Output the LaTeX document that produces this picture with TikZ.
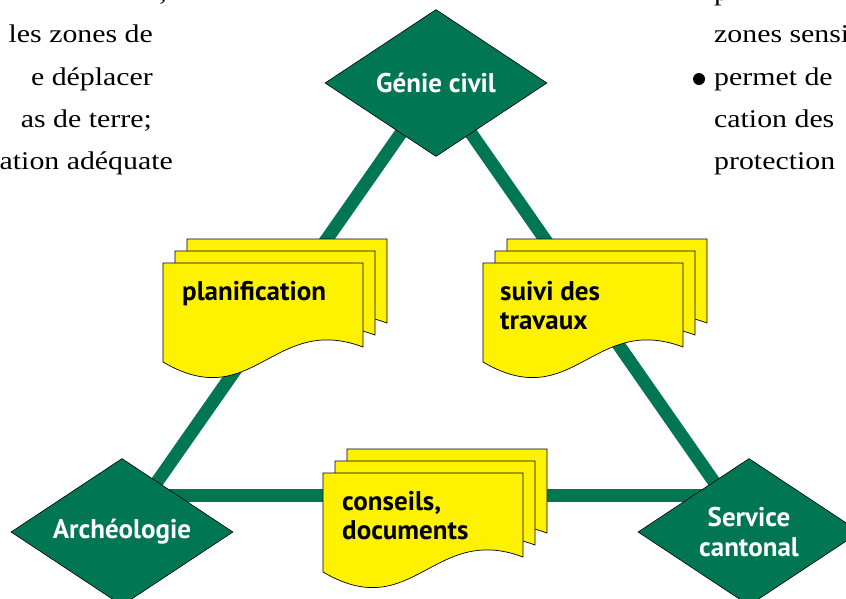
\documentclass[tikz,border=0pt]{standalone}
\usepackage{fontspec}
\setmainfont{Liberation Serif}
\newfontfamily\labelfont{PT Sans}
\newfontfamily\bgfont[FakeStretch=1.17]{Liberation Serif}
\usetikzlibrary{shapes.geometric,calc,backgrounds}
\definecolor{dgreen}{RGB}{0,118,82}
\definecolor{docyellow}{RGB}{255,242,0}
\begin{document}
\begin{tikzpicture}[x=1pt,y=-1pt,
  unitdiamond/.style={diamond, aspect=1.51, draw=black, line width=0.6pt, fill=dgreen,
    minimum width=222pt, minimum height=147pt, inner sep=0pt, text=white,
    font=\labelfont\bfseries\fontsize{27}{30}\selectfont, align=center},
  link/.style={draw=dgreen, line width=13pt},
  page/.style={fill=docyellow, draw=black, line width=0.7pt},
  doclabel/.style={font=\labelfont\bfseries\fontsize{27}{29}\selectfont,
    align=left, inner sep=0pt, anchor=base west},
  bgtext/.style={font=\bgfont\fontsize{25.5}{42}\selectfont, inner sep=0pt},
  docstack/.pic={
    \foreach \o in {24,12,0}{
      \path[page, shift={(\o,-\o)}] (0,0) -- (200,0) -- (200,84)
        .. controls (110,50) and (90,152) .. (0,99) -- cycle;
    }
  }
]
\clip (0,0) rectangle (846,598);
% diamonds
\node[unitdiamond] (gc) at (436,83) {Génie civil};
\node[unitdiamond] (ar) at (122,532) {Archéologie};
\node[unitdiamond] (sc) at (749,532) {Service\\cantonal};
% links
\begin{scope}[on background layer]
  \draw[link] (gc.center) -- (ar.center);
  \draw[link] (gc.center) -- (sc.center);
  \coordinate (hl) at ($(gc.center)!0.9176!(ar.center)$);
  \coordinate (hr) at ($(gc.center)!0.9176!(sc.center)$);
  \draw[link] (hl) -- (hr);
\end{scope}
% document stacks
\pic at (163,263) {docstack};
\pic at (483,263) {docstack};
\pic at (323,473) {docstack};
\node[doclabel] (plan) at (182,300) {planification};
\node[doclabel] (suivi) at (500,329) {suivi des\\travaux};
\node[doclabel] (cons) at (342,539) {conseils,\\documents};
% background text fragments
\node[bgtext, anchor=base east] (l0) at (167,0) {,};
\node[bgtext, anchor=base east] (l1) at (153,42.5) {les zones de};
\node[bgtext, anchor=base east] (l2) at (153,85) {e déplacer};
\node[bgtext, anchor=base east] (l3) at (152,127) {as de terre;};
\node[bgtext, anchor=base east] (l4) at (173,169) {ation adéquate};
\node[bgtext, anchor=base west] (r0) at (714,0.5) {p};
\node[bgtext, anchor=base west] (r1) at (714,42.5) {zones sensibles};
\node[circle, fill=black, inner sep=0pt, minimum size=12pt] (bul) at (699,79) {};
\node[bgtext, anchor=base west] (r2) at (714,85) {permet de};
\node[bgtext, anchor=base west] (r3) at (714,127) {cation des};
\node[bgtext, anchor=base west] (r4) at (714,169) {protection};
\end{tikzpicture}
\end{document}
